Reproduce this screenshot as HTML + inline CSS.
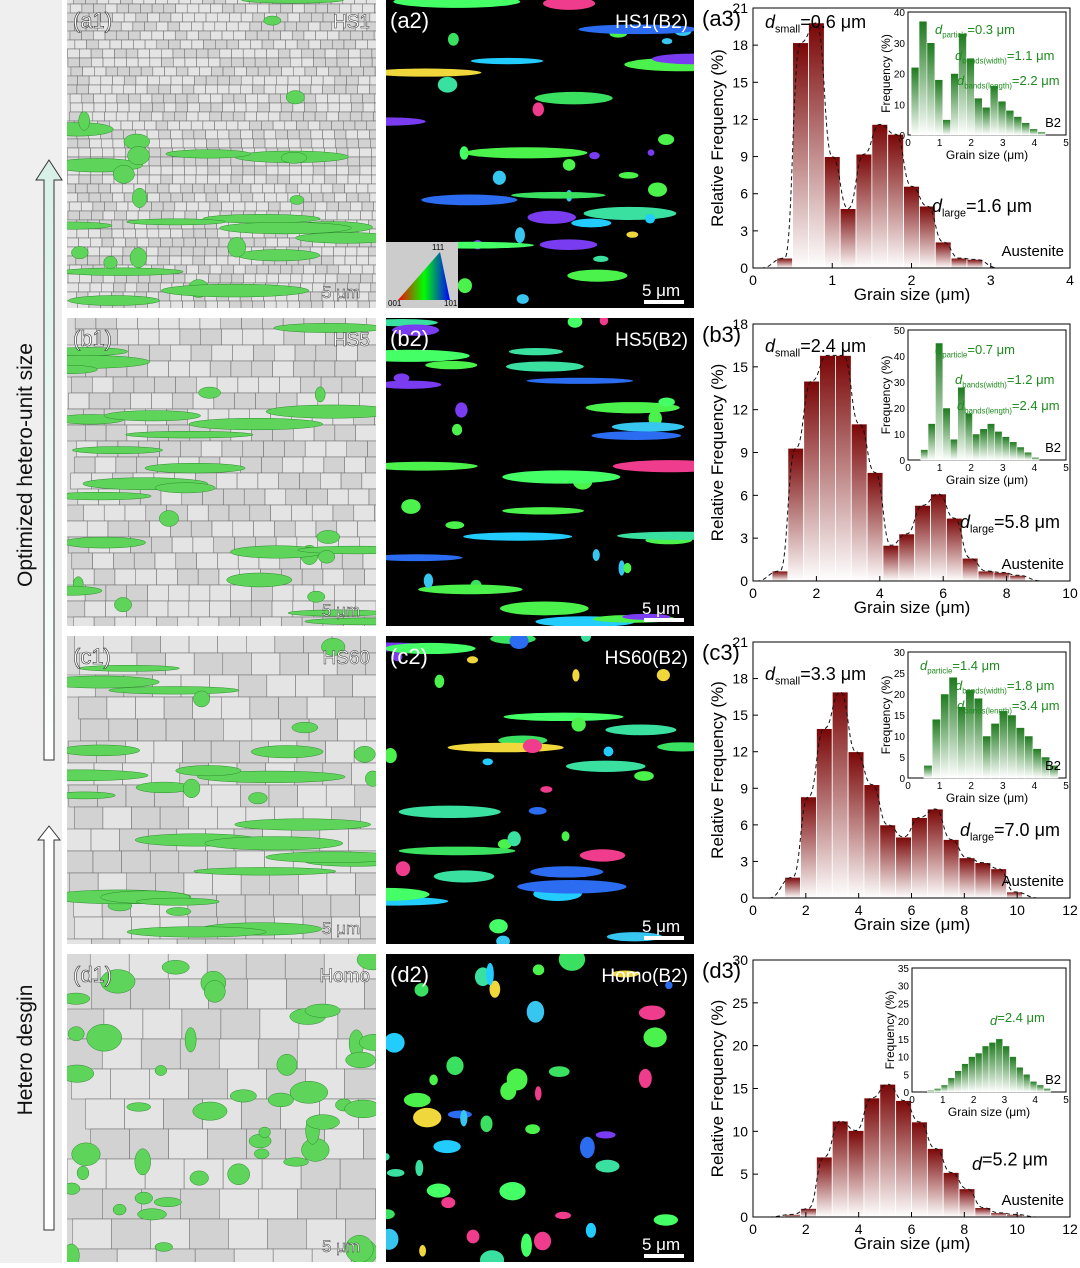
<!DOCTYPE html>
<html><head><meta charset="utf-8">
<style>
body{margin:0;background:#fff;font-family:"Liberation Sans",sans-serif}
svg text{font-family:"Liberation Sans",sans-serif}
</style></head>
<body>
<svg id="fig" width="1080" height="1263" viewBox="0 0 1080 1263" xmlns="http://www.w3.org/2000/svg">
<defs>
<linearGradient id="redg" x1="0" y1="0" x2="0" y2="1"><stop offset="0" stop-color="#7a0606"/><stop offset="1" stop-color="#ffffff"/></linearGradient>
<linearGradient id="greeng" x1="0" y1="0" x2="0" y2="1"><stop offset="0" stop-color="#1e7a1e"/><stop offset="1" stop-color="#ffffff"/></linearGradient>
<linearGradient id="arrowg" x1="0" y1="0" x2="0" y2="1"><stop offset="0" stop-color="#d8f0e8"/><stop offset="1" stop-color="#ffffff"/></linearGradient>
<linearGradient id="tri" x1="0" y1="0" x2="1" y2="0"><stop offset="0" stop-color="#f00"/><stop offset="0.5" stop-color="#0f0"/><stop offset="1" stop-color="#00f"/></linearGradient>
</defs>
<rect x="0" y="0" width="62" height="1263" fill="#efefef"/>
<g id="side">
<path d="M44 1230 L44 840 L38 840 L49 826 L60 840 L54 840 L54 1230 Z" fill="#fff" stroke="#333" stroke-width="1"/>
<path d="M44 760 L44 180 L36 180 L49 160 L62 180 L54 180 L54 760 Z" fill="url(#arrowg)" stroke="#333" stroke-width="1"/>
<text transform="translate(32,1050) rotate(-90)" font-size="21" text-anchor="middle" fill="#111">Hetero desgin</text>
<text transform="translate(32,465) rotate(-90)" font-size="21" text-anchor="middle" fill="#111">Optimized hetero-unit size</text>
</g>
<g id="images"></g>
<g id="charts"></g>
</svg>
<script>
// ---------- chart data ----------
const a3Bins = [0.3,0.5,0.7,0.9,1.1,1.3,1.5,1.7,1.9,2.1,2.3,2.5,2.7];
const a3Values = [0.8,18.2,19.8,9.0,4.8,9.2,11.6,10.8,6.6,5.0,2.1,0.8,0.7];
const b3Bins = [0.6,1.1,1.6,2.1,2.6,3.1,3.6,4.1,4.6,5.1,5.6,6.1,6.6,7.1,7.6,8.1];
const b3Values = [0.7,9.3,14.0,15.8,15.8,11.0,7.6,2.5,3.3,5.3,6.1,4.4,1.6,0.7,0.6,0.4];
const c3Bins = [1.2,1.8,2.4,3.0,3.6,4.2,4.8,5.4,6.0,6.6,7.2,7.8,8.4,9.0,9.6];
const c3Values = [1.7,8.3,13.9,16.9,12.0,9.3,6.0,5.0,6.6,7.3,4.8,3.3,2.9,2.4,0.5];
const d3Bins = [1.2,1.8,2.4,3.0,3.6,4.2,4.8,5.4,6.0,6.6,7.2,7.8,8.4,9.0,9.6];
const d3Values = [0.3,1.0,7.0,11.2,10.1,13.9,15.5,13.6,11.1,8.0,5.2,3.3,1.1,0.5,0.3];
const a3Ticks = [0,1,2,3,4], a3YTicks = [0,3,6,9,12,15,18,21];
const b3Ticks = [0,2,4,6,8,10], b3YTicks = [0,3,6,9,12,15,18];
const c3Ticks = [0,2,4,6,8,10,12], c3YTicks = [0,3,6,9,12,15,18,21];
const d3Ticks = [0,2,4,6,8,10,12], d3YTicks = [0,5,10,15,20,25,30];
const a3InsetVals = [22,37,30,18,5,20,33,25,12,9,16,11,8,6,4,2,1];
const b3InsetVals = [4,14,45,20,8,28,18,10,12,14,11,9,7,5,3,1];
const c3InsetVals = [3,14,20,24,17,21,19,10,13,16,15,12,10,7,5,3];
const d3InsetVals = [0.5,1,2,4,6,8,10,11,13,14,15,13,10,7,5,3,2,1];

const NS="http://www.w3.org/2000/svg";
function mk(parent,tag,attrs,txt){const e=document.createElementNS(NS,tag);for(const k in attrs)e.setAttribute(k,attrs[k]);if(txt!==undefined)e.textContent=txt;parent.appendChild(e);return e;}
function subText(parent,x,y,size,fill,parts){
  const t=mk(parent,'text',{x,y,'font-size':size,fill});
  mk(t,'tspan',{'font-style':'italic'},parts[0]);
  mk(t,'tspan',{'font-size':size*0.6,dy:size*0.25},parts[1]);
  mk(t,'tspan',{dy:-size*0.25},parts[2]);
  return t;
}

// ---------- micrograph textures (decorative) ----------
let seed=7;function rnd(){seed=(seed*16807)%2147483647;return seed/2147483647;}
const svg=document.getElementById('fig');
const defs=svg.querySelector('defs');
const imgs=document.getElementById('images');
const rows=[0,318,636,954];
const labels1=['(a1)','(b1)','(c1)','(d1)'], tags1=['HS1','HS5','HS60','Homo'];
const labels2=['(a2)','(b2)','(c2)','(d2)'];
const grainSz=[9,16,22,30];
rows.forEach((y0,r)=>{
  const c1=mk(defs,'clipPath',{id:'c1'+r});mk(c1,'rect',{x:67,y:y0,width:309,height:308});
  const c2=mk(defs,'clipPath',{id:'c2'+r});mk(c2,'rect',{x:386,y:y0,width:308,height:308});
  const g1=mk(imgs,'g',{'clip-path':`url(#c1${r})`});
  
  
  mk(g1,'rect',{x:67,y:y0,width:309,height:308,fill:'#d9d9d9'});
  const s=grainSz[r];
  for(let yy=y0-5;yy<y0+308;yy+=s)for(let xx=62+rnd()*s;xx<376;xx+=s*1.3){
    mk(g1,'rect',{x:xx,y:yy,width:s*1.3,height:s,fill:rnd()>0.5?'#e4e4e4':'#d2d2d2',stroke:'#666','stroke-width':0.5});
  }
  const nb = r===3?45:30;
  for(let i=0;i<nb;i++){
    const band=r<3 && rnd()>0.45;
    const cx=67+rnd()*309, cy=y0+rnd()*308;
    mk(g1,'ellipse',{cx,cy,rx:band?25+rnd()*50:5+rnd()*(r===3?14:8),ry:band?3+rnd()*4:4+rnd()*(r===3?10:6),fill:'#5ed55a',stroke:'#2d8a2d','stroke-width':0.5});
  }
  mk(g1,'text',{x:73,y:y0+28,'font-size':22,fill:'#fff',stroke:'#333','stroke-width':0.6},labels1[r]);
  mk(g1,'text',{x:370,y:y0+28,'font-size':19,fill:'#fff',stroke:'#333','stroke-width':0.5,'text-anchor':'end'},tags1[r]);
  mk(g1,'text',{x:322,y:y0+298,'font-size':17,fill:'#fff',stroke:'#333','stroke-width':0.5},'5 μm');

  const g2=mk(imgs,'g',{'clip-path':`url(#c2${r})`});
  
  
  mk(g2,'rect',{x:386,y:y0,width:308,height:308,fill:'#000'});
  const cols=['#4cf24c','#3ae0a0','#37c6f0','#2b6cf0','#7a3cf0','#f03c8c','#f0d83c','#44ff66','#22ccff','#4cf24c','#3ae060'];
  for(let i=0;i<(r===3?45:40);i++){
    const band=r<3 && rnd()>0.5;
    mk(g2,'ellipse',{cx:386+rnd()*308,cy:y0+rnd()*308,rx:band?20+rnd()*45:3+rnd()*(r===3?12:7),ry:band?3+rnd()*4:3+rnd()*(r===3?9:5),fill:cols[Math.floor(rnd()*cols.length)]});
  }
  mk(g2,'text',{x:390,y:y0+28,'font-size':22,fill:'#fff'},labels2[r]);
  mk(g2,'text',{x:688,y:y0+28,'font-size':19,fill:'#fff','text-anchor':'end'},['HS1(B2)','HS5(B2)','HS60(B2)','Homo(B2)'][r]);
  mk(g2,'text',{x:642,y:y0+296,'font-size':17,fill:'#fff'},'5 μm');
  mk(g2,'rect',{x:644,y:y0+300,width:40,height:4,fill:'#fff'});
});
(function(){const g=mk(imgs,'g',{});
mk(g,'rect',{x:386,y:242,width:72,height:66,fill:'#ccc'});
mk(g,'path',{d:'M398 300 L450 300 L440 252 Z',fill:'url(#tri)'});
mk(g,'text',{x:388,y:306,'font-size':8},'001');mk(g,'text',{x:444,y:306,'font-size':8},'101');mk(g,'text',{x:432,y:250,'font-size':8},'111');})();

// ---------- histograms ----------
const charts=document.getElementById('charts');
function hist(cfg){
  const g=mk(charts,'g',{});
  
  
  const X0=753,X1=1070,Y0=cfg.y0,Y1=cfg.y1;
  const xs=v=>X0+v/cfg.xmax*(X1-X0);
  const ys=v=>Y0-(v/cfg.ymax)*(Y0-Y1);
  cfg.bins.forEach((b,i)=>{
    const bar=mk(g,'rect',{x:xs(b),y:ys(cfg.vals[i]),width:xs(b+cfg.w)-xs(b),height:Y0-ys(cfg.vals[i]),fill:'url(#redg)',stroke:'#fff','stroke-width':0.8});
    
    
  });
  let pts=[[xs(cfg.bins[0]-cfg.w),Y0]];
  cfg.bins.forEach((b,i)=>pts.push([xs(b+cfg.w/2),ys(cfg.vals[i])]));
  pts.push([xs(cfg.bins[cfg.bins.length-1]+cfg.w*2),Y0]);
  let d='M'+pts[0].join(' ');
  for(let i=1;i<pts.length;i++){const p=pts[i-1],q=pts[i];const mx=(p[0]+q[0])/2;d+=` C${mx} ${p[1]} ${mx} ${q[1]} ${q[0]} ${q[1]}`;}
  const c=mk(g,'path',{d,fill:'none',stroke:'#111','stroke-width':1,'stroke-dasharray':'4 3'});
  
  mk(g,'rect',{x:X0,y:Y1,width:X1-X0,height:Y0-Y1,fill:'none',stroke:'#000','stroke-width':1});
  cfg.xt.forEach(t=>{mk(g,'line',{x1:xs(t),x2:xs(t),y1:Y0,y2:Y0-5,stroke:'#000'});mk(g,'text',{x:xs(t),y:Y0+17,'font-size':14,'text-anchor':'middle'},t);});
  cfg.yt.forEach(t=>{mk(g,'line',{x1:X0,x2:X0+5,y1:ys(t),y2:ys(t),stroke:'#000'});mk(g,'text',{x:X0-5,y:ys(t)+5,'font-size':14,'text-anchor':'end'},t);});
  const xl=mk(g,'text',{x:912,y:Y0+32,'font-size':17,'text-anchor':'middle'},'Grain size (μm)');
  
  const yl=mk(g,'text',{transform:`translate(723,${(Y0+Y1)/2}) rotate(-90)`,'font-size':17,'text-anchor':'middle'},'Relative Frequency (%)');
  
  mk(g,'text',{x:702,y:Y1+18,'font-size':22},cfg.label);
  mk(g,'text',{x:1064,y:Y0-12,'font-size':15,'text-anchor':'end'},'Austenite');
  cfg.notes.forEach(n=>subText(g,n[0],n[1],18,'#000',n[2]));
  const ix=cfg.inset[0],iy=cfg.inset[1],iw=cfg.inset[2],ih=cfg.inset[3];
  const ig=mk(g,'g',{});
  mk(ig,'rect',{x:ix,y:iy,width:iw,height:ih,fill:'#fff',stroke:'#000'});
  const n=cfg.ivals.length,imax=cfg.iymax,bw=iw*cfg.ispan/n;
  cfg.ivals.forEach((v,i)=>mk(ig,'rect',{x:ix+iw*cfg.istart+i*bw,y:iy+ih-v/imax*ih,width:bw,height:v/imax*ih,fill:'url(#greeng)',stroke:'#fff','stroke-width':0.5}));
  cfg.ixt.forEach((t,i)=>mk(ig,'text',{x:ix+iw*i/(cfg.ixt.length-1),y:iy+ih+11,'font-size':10,'text-anchor':'middle'},t));
  cfg.iyt.forEach((t,i)=>mk(ig,'text',{x:ix-3,y:iy+ih-ih*i/(cfg.iyt.length-1)+4,'font-size':10,'text-anchor':'end'},t));
  mk(ig,'text',{x:ix+iw/2,y:iy+ih+24,'font-size':12,'text-anchor':'middle'},'Grain size (μm)');
  mk(ig,'text',{transform:`translate(${ix-18},${iy+ih/2}) rotate(-90)`,'font-size':12,'text-anchor':'middle'},'Frequency (%)');
  mk(ig,'text',{x:ix+iw-5,y:iy+ih-8,'font-size':13,'text-anchor':'end'},'B2');
  cfg.inotes.forEach(t=>subText(ig,t[0],t[1],13,'#1e8c1e',t[2]));
}
hist({id:'a3',label:'(a3)',y0:268,y1:8,xmax:4,ymax:21,bins:a3Bins,vals:a3Values,w:0.2,xt:a3Ticks,yt:a3YTicks,
  notes:[[765,28,['d','small','=0.6 μm']],[932,212,['d','large','=1.6 μm']]],inset:[908,12,158,123],ivals:a3InsetVals,istart:0.02,ispan:0.85,iymax:40,
  ixt:[0,1,2,3,4,5],iyt:[0,10,20,30,40],inotes:[[935,34,['d','particle','=0.3 μm']],[955,60,['d','bands(width)','=1.1 μm']],[957,85,['d','bands(length)','=2.2 μm']]]});
hist({id:'b3',label:'(b3)',y0:581,y1:324,xmax:10,ymax:18,bins:b3Bins,vals:b3Values,w:0.5,xt:b3Ticks,yt:b3YTicks,
  notes:[[765,352,['d','small','=2.4 μm']],[960,528,['d','large','=5.8 μm']]],inset:[908,330,158,130],ivals:b3InsetVals,istart:0.08,ispan:0.75,iymax:50,
  ixt:[0,1,2,3,4,5],iyt:[0,10,20,30,40,50],inotes:[[935,354,['d','particle','=0.7 μm']],[955,384,['d','bands(width)','=1.2 μm']],[957,410,['d','bands(length)','=2.4 μm']]]});
hist({id:'c3',label:'(c3)',y0:898,y1:642,xmax:12,ymax:21,bins:c3Bins,vals:c3Values,w:0.6,xt:c3Ticks,yt:c3YTicks,
  notes:[[765,680,['d','small','=3.3 μm']],[960,836,['d','large','=7.0 μm']]],inset:[908,652,158,126],ivals:c3InsetVals,istart:0.1,ispan:0.85,iymax:30,
  ixt:[0,1,2,3,4,5],iyt:[0,5,10,15,20,25,30],inotes:[[920,670,['d','particle','=1.4 μm']],[955,690,['d','bands(width)','=1.8 μm']],[957,710,['d','bands(length)','=3.4 μm']]]});
hist({id:'d3',label:'(d3)',y0:1217,y1:960,xmax:12,ymax:30,bins:d3Bins,vals:d3Values,w:0.6,xt:d3Ticks,yt:d3YTicks,
  notes:[[972,1170,['d','','=5.2 μm']]],inset:[912,968,154,124],ivals:d3InsetVals,istart:0.1,ispan:0.8,iymax:35,
  ixt:[0,1,2,3,4,5],iyt:[0,5,10,15,20,25,30,35],inotes:[[990,1025,['d','','=2.4 μm']]]});
</script>
</body></html>
